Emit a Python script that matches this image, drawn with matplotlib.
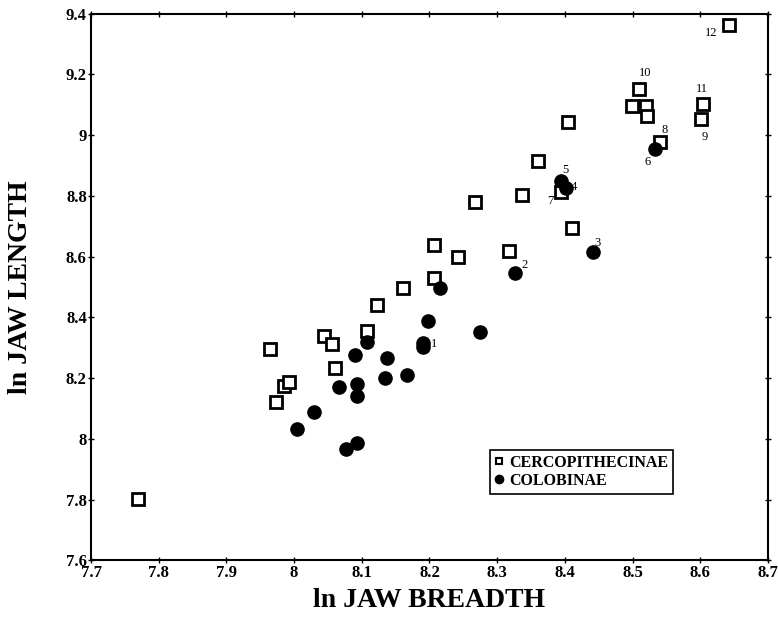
import matplotlib
matplotlib.use('Agg')

from matplotlib import pyplot
from matplotlib.lines import Line2D

# Cercopithecinae (open squares)
cerc_x = [7.769, 7.965, 7.974, 7.985, 7.992, 8.044, 8.056, 8.060, 8.107, 8.123,
          8.161, 8.207, 8.206, 8.242, 8.268, 8.318, 8.336, 8.361, 8.394, 8.404,
          8.411, 8.499, 8.510, 8.520, 8.521, 8.541, 8.604, 8.601, 8.642]
cerc_y = [7.804, 8.296, 8.121, 8.174, 8.189, 8.340, 8.312, 8.234, 8.356, 8.441,
          8.497, 8.530, 8.638, 8.600, 8.781, 8.619, 8.803, 8.914, 8.814, 9.043,
          8.694, 9.097, 9.153, 9.097, 9.063, 8.978, 9.103, 9.052, 9.362]

# Colobinae (filled circles)
colo_x = [8.005, 8.029, 8.067, 8.077, 8.093, 8.093, 8.093, 8.090, 8.107, 8.135,
          8.137, 8.167, 8.190, 8.191, 8.198, 8.215, 8.275, 8.327, 8.394, 8.402,
          8.442, 8.533]
colo_y = [8.034, 8.089, 8.170, 7.968, 7.988, 8.141, 8.181, 8.276, 8.318, 8.200,
          8.266, 8.212, 8.316, 8.302, 8.389, 8.498, 8.353, 8.546, 8.849, 8.827,
          8.614, 8.955]

# numbered specimen labels
num_text = ['1', '2', '3', '4', '5', '6', '7', '8', '9', '10', '11', '12']
num_x = [8.207, 8.341, 8.449, 8.414, 8.401, 8.523, 8.378, 8.547, 8.607, 8.518, 8.603, 8.616]
num_y = [8.312, 8.571, 8.646, 8.830, 8.884, 8.911, 8.782, 9.017, 8.993, 9.205, 9.151, 9.335]

xticks = [7.7, 7.8, 7.9, 8.0, 8.1, 8.2, 8.3, 8.4, 8.5, 8.6, 8.7]
xticklabels = ['7.7', '7.8', '7.9', '8', '8.1', '8.2', '8.3', '8.4', '8.5', '8.6', '8.7']
yticks = [7.6, 7.8, 8.0, 8.2, 8.4, 8.6, 8.8, 9.0, 9.2, 9.4]
yticklabels = ['7.6', '7.8', '8', '8.2', '8.4', '8.6', '8.8', '9', '9.2', '9.4']

pyplot.rcParams['font.family'] = 'Liberation Serif'

fig = pyplot.figure(figsize=(7.78, 6.2), dpi=100)
ax = fig.add_axes([0.1170, 0.096, 0.870, 0.882])

ax.plot(cerc_x, cerc_y, 's', ms=8, mfc='white', mec='black', mew=2, ls='none', zorder=3)
ax.plot(colo_x, colo_y, 'o', ms=9.5, color='black', ls='none', zorder=3)

for t, x, y in zip(num_text, num_x, num_y):
    ax.text(x, y, t, fontsize=9, ha='center', va='center', zorder=4)

ax.set_xlim(7.7, 8.7)
ax.set_ylim(7.6, 9.4)
ax.set_xticks(xticks)
ax.set_xticklabels(xticklabels)
ax.set_yticks(yticks)
ax.set_yticklabels(yticklabels)
ax.tick_params(direction='inout', length=4, width=1, top=True, right=True,
               labelsize=12, pad=1)
for lbl in ax.get_xticklabels() + ax.get_yticklabels():
    lbl.set_fontweight('bold')
for s in ax.spines.values():
    s.set_linewidth(1.5)

ax.set_xlabel('ln JAW BREADTH', fontsize=20, fontweight='bold', labelpad=5)
ax.set_ylabel('ln JAW LENGTH', fontsize=20, fontweight='bold', labelpad=24)

handles = [
    Line2D([], [], marker='s', ms=5, mfc='white', mec='black', mew=1.5, ls='none'),
    Line2D([], [], marker='o', ms=6, color='black', ls='none'),
]
leg = ax.legend(handles, ['CERCOPITHECINAE', 'COLOBINAE'], loc='lower left',
                bbox_to_anchor=(0.589, 0.122), prop={'weight': 'bold', 'size': 11.5},
                fancybox=False, edgecolor='black', framealpha=1,
                handlelength=0.6, handletextpad=0.3, borderpad=0.3,
                labelspacing=0.15, borderaxespad=0)
leg.get_frame().set_linewidth(1.2)

fig.savefig('out.png', dpi=100)
